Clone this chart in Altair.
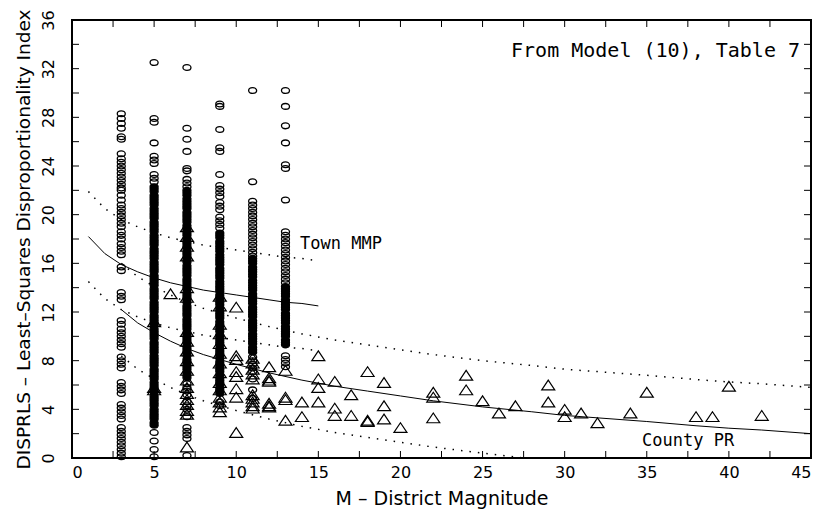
import altair as alt
import pandas as pd

# ---------------- data ----------------
# Town MMP observations (circles). "sparse" = individually visible circles,
# "dense" = the heavily overplotted stretches of each column.
town_sparse = {
    3: [28.3, 27.9, 27.5, 27.1, 26.4, 26.2, 25.0, 24.6, 24.3, 24.0, 23.7, 23.4, 23.1, 22.8,
        22.5, 22.2, 22.0, 21.6, 21.2, 20.8, 20.5, 20.2, 19.9, 19.6, 19.3, 19.0, 18.6, 18.3,
        18.0, 17.6, 17.3, 17.0, 16.7, 15.7, 15.4, 13.6, 13.3, 13.0, 11.3, 11.0, 10.6, 10.3,
        10.0, 9.7, 9.4, 9.1, 8.3, 8.0, 7.7, 7.4, 6.2, 5.9, 5.6, 5.3, 4.4, 4.1, 3.8, 3.5, 3.2,
        2.5, 2.2, 1.9, 1.6, 1.3, 1.0, 0.7, 0.4, 0.1],
    5: [32.5, 27.9, 27.6, 25.9, 24.8, 24.5, 24.2, 23.3, 23.0, 22.7, 2.1, 1.4, 0.7, 0.1],
    7: [32.1, 27.1, 26.2, 25.2, 23.8, 23.6, 22.9, 22.6, 22.3,
        6.1, 5.8, 5.5, 5.2, 4.6, 4.3, 4.0, 3.4, 2.5, 2.2, 1.9, 1.6, 0.2],
    9: [29.1, 28.9, 27.0, 25.5, 25.2, 23.3, 22.4, 22.1, 21.8, 21.5, 21.0, 20.7, 20.4,
        19.8, 19.5, 19.2, 18.9, 4.6, 4.3],
    11: [30.2, 22.7, 21.1, 20.8, 20.5, 20.2, 19.9, 19.6, 19.3, 19.0, 18.7, 18.4, 18.1,
         17.8, 17.5, 17.2, 16.9, 16.6, 8.3, 8.0, 7.7, 7.4, 7.1, 6.5, 5.6, 4.9],
    13: [30.2, 28.9, 27.3, 25.9, 24.1, 23.8, 21.2, 18.6, 18.3, 18.0, 17.7, 17.4, 17.1,
         16.8, 16.5, 16.2, 15.9, 15.6, 15.3, 15.0, 14.7, 14.4, 8.4, 8.1, 7.8, 7.5],
}
town_dense = {
    5: [22.3, 22.1, 21.9, 21.6, 21.4, 21.2, 21.0, 20.8, 20.5, 20.3, 20.1, 19.9, 19.7, 19.4,
        19.2, 19.0, 18.8, 18.6, 18.3, 18.1, 17.9, 17.7, 17.5, 17.2, 17.0, 16.8, 16.6, 16.4,
        16.1, 15.9, 15.7, 15.5, 15.3, 15.0, 14.8, 14.6, 14.4, 14.2, 13.9, 13.7, 13.5, 13.3,
        13.1, 12.8, 12.6, 12.4, 12.2, 12.0, 11.7, 11.5, 11.3, 11.1, 10.9, 10.6, 10.4, 10.2,
        10.0, 9.8, 9.5, 9.3, 9.1, 8.9, 8.7, 8.4, 8.2, 8.0, 7.8, 7.6, 7.3, 7.1, 6.9, 6.7, 6.5,
        6.2, 6.0, 5.8, 5.6, 5.4, 5.1, 4.9, 4.7, 4.5, 4.3, 4.0, 3.8, 3.6, 3.4, 3.2, 2.9, 2.7],
    7: [22.0, 21.8, 21.6, 21.3, 21.1, 20.9, 20.7, 20.5, 20.2, 20.0, 19.8, 19.6, 19.4, 19.1,
        18.9, 18.7, 18.5, 18.3, 18.0, 17.8, 17.6, 17.4, 17.2, 16.9, 16.7, 16.5, 16.3, 16.1,
        15.8, 15.6, 15.4, 15.2, 15.0, 14.7, 14.5, 14.3, 14.1, 13.9, 13.6, 13.4, 13.2, 13.0,
        12.8, 12.5, 12.3, 12.1, 11.9, 11.7, 11.4, 11.2, 11.0, 10.8, 10.6, 10.3, 10.1, 9.9,
        9.7, 9.5, 9.2, 9.0, 8.8, 8.6, 8.4, 8.1, 7.9, 7.7, 7.5, 7.3, 7.0, 6.8, 6.6],
    9: [18.5, 18.3, 18.1, 17.8, 17.6, 17.4, 17.2, 17.0, 16.7, 16.5, 16.3, 16.1, 15.9, 15.6,
        15.4, 15.2, 15.0, 14.8, 14.5, 14.3, 14.1, 13.9, 13.7, 13.4, 13.2, 13.0, 12.8, 12.6,
        12.3, 12.1, 11.9, 11.7, 11.5, 11.2, 11.0, 10.8, 10.6, 10.4, 10.1, 9.9, 9.7, 9.5,
        9.3, 9.0, 8.8, 8.6, 8.4, 8.2, 7.9, 7.7, 7.5, 7.3, 7.1, 6.8, 6.6, 6.4, 6.2, 6.0,
        5.7, 5.5, 5.3],
    11: [16.4, 16.2, 16.0, 15.7, 15.5, 15.3, 15.1, 14.9, 14.6, 14.4, 14.2, 14.0, 13.8,
         13.5, 13.3, 13.1, 12.9, 12.7, 12.4, 12.2, 12.0, 11.8, 11.6, 11.3, 11.1, 10.9,
         10.7, 10.5, 10.2, 10.0, 9.8, 9.6, 9.4, 9.1, 8.9, 8.7],
    13: [14.1, 13.9, 13.7, 13.5, 13.3, 13.0, 12.8, 12.6, 12.4, 12.2, 11.9, 11.7, 11.5,
         11.3, 11.1, 10.8, 10.6, 10.4, 10.2, 10.0, 9.7, 9.5, 9.3],
}

# County PR observations (triangles): district magnitude -> DISPRLS values
county_pts = {
    5: [11.2, 5.8, 5.6],
    6: [13.5],
    7: [19.0, 18.2, 17.4, 16.6, 14.0, 13.2, 10.4, 9.6, 8.8, 8.0, 7.2, 6.4, 5.8, 5.3,
        4.8, 4.4, 3.9, 3.6, 0.9],
    9: [13.3, 12.5, 11.0, 10.2, 9.4, 8.6, 7.8, 7.0, 6.2, 5.6, 5.0, 4.6, 4.2, 3.8],
    10: [12.4, 8.4, 8.1, 7.1, 6.7, 5.7, 5.0, 2.1],
    11: [8.2, 7.8, 7.3, 6.9, 6.5, 5.2, 4.9, 4.6, 4.3, 4.1],
    12: [7.5, 6.6, 6.4, 6.3, 4.5, 4.3, 4.2],
    13: [7.2, 5.0, 4.8, 3.1],
    14: [4.6, 3.4],
    15: [8.4, 6.5, 5.8, 4.6],
    16: [6.3, 4.1, 3.5],
    17: [5.2, 3.5],
    18: [7.1, 3.1, 3.0],
    19: [6.2, 4.3, 3.2],
    20: [2.5],
    22: [5.4, 5.0, 3.3],
    24: [6.8, 5.6],
    25: [4.7],
    26: [3.7],
    27: [4.3],
    29: [6.0, 4.6],
    30: [4.0, 3.4],
    31: [3.7],
    32: [2.9],
    34: [3.7],
    35: [5.4],
    38: [3.4],
    39: [3.4],
    40: [5.9],
    42: [3.5],
}

# Fitted curves and bands
town_fit_m = [1, 2, 3, 4, 5, 6, 7, 8, 9, 10, 11, 12, 13, 14, 15]
town_fit = [18.2, 16.8, 15.9, 15.3, 14.8, 14.4, 14.1, 13.8, 13.6, 13.4, 13.2, 13.0, 12.8, 12.7, 12.5]
town_hi = [21.9, 20.5, 19.6, 19.0, 18.5, 18.1, 17.8, 17.5, 17.3, 17.1, 16.9, 16.7, 16.5, 16.4, 16.2]
town_lo = [14.5, 13.1, 12.2, 11.6, 11.1, 10.7, 10.4, 10.1, 9.9, 9.7, 9.5, 9.3, 9.1, 9.0, 8.8]

county_fit_m = [3, 4, 5, 6, 7, 8, 9, 10, 12, 14, 16, 18, 20, 22, 25, 28, 30, 32, 35, 38, 40, 42, 45]
county_fit = [12.2, 11.1, 10.3, 9.6, 9.0, 8.5, 8.1, 7.7, 7.0, 6.4, 5.9, 5.5, 5.1, 4.7, 4.2,
              3.8, 3.5, 3.3, 3.0, 2.65, 2.45, 2.3, 2.0]
county_hi = [16.0, 14.9, 14.1, 13.4, 12.8, 12.3, 11.9, 11.5, 10.8, 10.2, 9.7, 9.3, 8.9, 8.5,
             8.0, 7.6, 7.3, 7.1, 6.8, 6.45, 6.25, 6.1, 5.8]
county_lo_m = [3, 4, 5, 6, 7, 8, 9, 10, 12, 14, 16, 18, 20, 22, 25, 27.5]
county_lo = [8.4, 7.3, 6.5, 5.8, 5.2, 4.7, 4.3, 3.9, 3.2, 2.6, 2.1, 1.7, 1.3, 0.9, 0.4, 0.0]

x_ticks = [0, 2.5, 5, 7.5, 10, 12.5, 15, 17.5, 20, 22.5, 25, 27.5, 30, 32.5, 35, 37.5, 40, 42.5, 45]
x_labels = [0, 5, 10, 15, 20, 25, 30, 35, 40, 45]
y_ticks = [0, 2, 4, 6, 8, 10, 12, 14, 16, 18, 20, 22, 24, 26, 28, 30, 32, 34, 36]
y_labels = [0, 4, 8, 12, 16, 20, 24, 28, 32, 36]

# ---------------- tables ----------------
def to_df(d):
    return pd.DataFrame([(m, v) for m, vals in d.items() for v in vals], columns=["M", "D"])

sparse_df = to_df(town_sparse)
dense_df = to_df(town_dense)
county_df = to_df(county_pts)

curves = []
for name, xs_, ys_, style in [
    ("town_fit", town_fit_m, town_fit, "solid"),
    ("town_hi", town_fit_m, town_hi, "dot"),
    ("town_lo", town_fit_m, town_lo, "dot"),
    ("county_fit", county_fit_m, county_fit, "solid"),
    ("county_hi", county_fit_m, county_hi, "dot"),
    ("county_lo", county_lo_m, county_lo, "dot"),
]:
    for x, y in zip(xs_, ys_):
        curves.append({"curve": name, "style": style, "M": x, "D": y})
curve_df = pd.DataFrame(curves)

FONT = "DejaVu Sans"
MONO = "DejaVu Sans Mono"
W, H = 739, 438
TICK = 7

xs = alt.Scale(domain=[0, 45], nice=False, zero=False)
ys = alt.Scale(domain=[0, 36], nice=False, zero=False)

ELLIPSE = "M -1 0 A 1 0.72 0 1 1 1 0 A 1 0.72 0 1 1 -1 0 Z"
TRIANGLE = "M 0 -0.75 L 1 0.75 L -1 0.75 Z"

x_axis = alt.Axis(values=x_labels, title="M – District Magnitude", grid=False, ticks=False,
                  domain=False, labelFont=FONT, labelFontSize=16, labelPadding=6,
                  labelColor="black", titleFont=FONT, titleFontSize=19, titleFontWeight="normal",
                  titleColor="black", titlePadding=9, format="d")
y_axis = alt.Axis(values=y_labels, title="DISPRLS – Least–Squares Disproportionality Index",
                  grid=False, ticks=False, domain=False, labelFont=FONT,
                  labelFontSize=16, labelAngle=270, labelAlign="center", labelBaseline="bottom",
                  labelPadding=16, labelColor="black", titleFont=FONT, titleFontSize=18.5,
                  titleFontWeight="normal", titleColor="black", titlePadding=7, format="d")

X = alt.X("M:Q", scale=xs, axis=x_axis)
Y = alt.Y("D:Q", scale=ys, axis=y_axis)

sparse_layer = alt.Chart(sparse_df).mark_point(
    shape=ELLIPSE, size=64, filled=False, color="black", strokeWidth=1.3, opacity=1
).encode(x=X, y=Y)

dense_layer = alt.Chart(dense_df).mark_point(
    shape=ELLIPSE, size=64, filled=True, fill="black", stroke="black", strokeWidth=1.3,
    opacity=1
).encode(x=X, y=Y)

county_layer = alt.Chart(county_df).mark_point(
    shape=TRIANGLE, size=169, filled=False, color="black", strokeWidth=1.2, opacity=1
).encode(x=X, y=Y)

solid_lines = alt.Chart(curve_df).transform_filter(alt.datum.style == "solid").mark_line(
    color="black", strokeWidth=1
).encode(x=X, y=Y, detail="curve:N")

dotted_lines = alt.Chart(curve_df).transform_filter(alt.datum.style == "dot").mark_line(
    color="black", strokeWidth=1.5, strokeDash=[1.5, 7]
).encode(x=X, y=Y, detail="curve:N")

xt_df = pd.DataFrame({"M": x_ticks})
yt_df = pd.DataFrame({"D": y_ticks})
tick_layers = [
    alt.Chart(xt_df).mark_rule(color="black", strokeWidth=1).encode(
        x=X, y=alt.value(H), y2=alt.value(H - TICK)),
    alt.Chart(xt_df).mark_rule(color="black", strokeWidth=1).encode(
        x=X, y=alt.value(0), y2=alt.value(TICK)),
    alt.Chart(yt_df).mark_rule(color="black", strokeWidth=1).encode(
        y=Y, x=alt.value(0), x2=alt.value(TICK)),
    alt.Chart(yt_df).mark_rule(color="black", strokeWidth=1).encode(
        y=Y, x=alt.value(W), x2=alt.value(W - TICK)),
]

def label(text, px, py, align="left", size=15, font=MONO):
    return alt.Chart(pd.DataFrame({"txt": [text]})).mark_text(
        font=font, fontSize=size, align=align, baseline="middle", color="black"
    ).encode(text="txt:N", x=alt.value(px), y=alt.value(py))

texts = [
    label("From Model (10), Table 7", 728, 31, align="right", size=20),
    label("Town MMP", 228, 224, size=17),
    label("County PR", 570, 421, size=17),
]

chart = alt.layer(
    dotted_lines, solid_lines, sparse_layer, dense_layer, county_layer, *tick_layers, *texts
).properties(
    width=W, height=H,
    autosize=alt.AutoSizeParams(type="none"),
    padding={"left": 72, "top": 20, "right": 8, "bottom": 59},
    background="white",
).configure_view(stroke="black", strokeWidth=2)

chart.save("out.html", embed_options={"renderer": "svg", "actions": False})
